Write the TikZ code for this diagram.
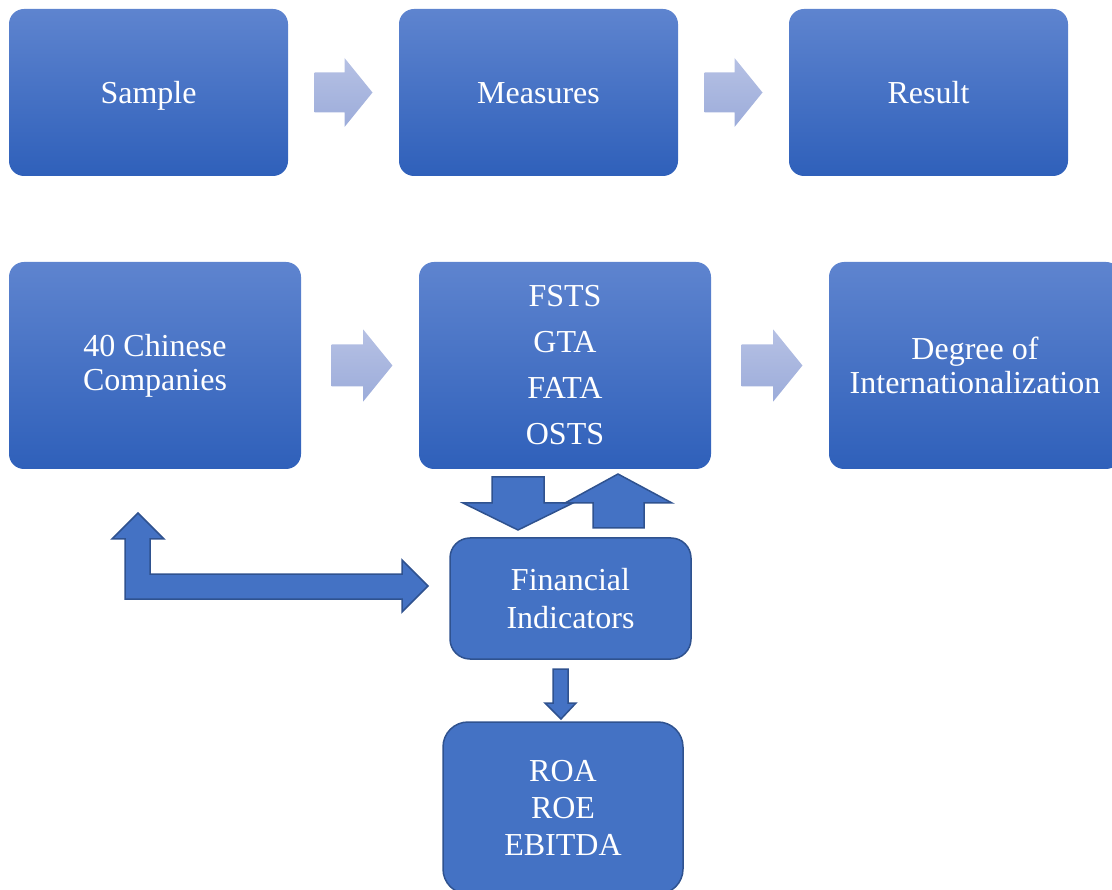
\documentclass[tikz,border=0pt]{standalone}
\usepackage{fontspec}
\setmainfont{Liberation Serif}
\usetikzlibrary{calc}

\definecolor{boxtop}{RGB}{94,132,207}
\definecolor{boxbot}{RGB}{47,96,186}
\definecolor{chevtop}{RGB}{182,193,228}
\definecolor{chevbot}{RGB}{156,172,218}
\definecolor{blockfill}{RGB}{68,114,196}
\definecolor{blockline}{RGB}{47,82,143}

\begin{document}
\begin{tikzpicture}[
        x=1pt, y=-1pt,
        every node/.style={font=\fontsize{32}{34}\selectfont, text=white, align=center, inner sep=0pt},
        stepbox/.style={rounded corners=15pt, top color=boxtop, bottom color=boxbot,
            minimum width=279pt, minimum height=167pt},
        toprow/.style={stepbox, text height=24pt, text depth=1pt},
        bigbox/.style={stepbox, minimum width=292pt, minimum height=207pt},
        flatbox/.style={rounded corners=20pt, fill=blockfill, draw=blockline, line width=1.5pt},
        blockarrow/.style={fill=blockfill, draw=blockline, line width=1.5pt, line join=miter},
        pics/chev/.style={code={%
            \path[top color=chevtop, bottom color=chevbot]
            (-29,-20) -- (1,-20) -- (1,-34.5) -- (29,0) -- (1,34.5) -- (1,20) -- (-29,20) -- cycle;
        }}
    ]
            \useasboundingbox (0,0) rectangle (1112,890);

            % top row
            \node[toprow] (sample)   at (148.5,92.5) {Sample};
            \node[toprow] (measures) at (538.5,92.5) {Measures};
            \node[toprow] (result)   at (928.5,92.5) {Result};

            \pic at ($(sample.east)!0.5!(measures.west)$) {chev};
            \pic at ($(measures.east)!0.5!(result.west)$) {chev};

            % second row
            \node[bigbox] (companies) at (155,365.5) {40 Chinese\\Companies};
            \node[bigbox] (ratios)    at (565,365.5) {FSTS\\[12pt]GTA\\[12pt]FATA\\[12pt]OSTS};
            \node[bigbox] (doi)       at (975,365.5) {Degree of\\Internationalization};

            \pic[scale=1.05] at ($(companies.east)!0.5!(ratios.west)+(2,0)$) {chev};
            \pic[scale=1.05] at ($(ratios.east)!0.5!(doi.west)+(2,0)$) {chev};

            % indicators
            \node[flatbox, minimum width=241pt, minimum height=121pt] (fin) at (570.5,598.5)
                {Financial\\[4pt]Indicators};
            \node[flatbox, rounded corners=25pt, minimum width=240pt, minimum height=172pt] (roa)
                at (563,808) {ROA\\[3pt]ROE\\[3pt]EBITDA};

            % block arrows
            \draw[blockarrow] (492,477) -- (544,477) -- (544,503) -- (573,503) -- (518,530)
                -- (463,503) -- (492,503) -- cycle;
            \draw[blockarrow] (593,528) -- (644,528) -- (644,503) -- (672,503) -- (618,474)
                -- (565,503) -- (593,503) -- cycle;
            \draw[blockarrow] (125,599) -- (125,539) -- (112,539) -- (138,513) -- (164,539)
                -- (150,539) -- (150,574) -- (402,574) -- (402,560) -- (428,586)
                -- (402,612) -- (402,599) -- cycle;
            \draw[blockarrow] (553,669) -- (568,669) -- (568,703) -- (576,703) -- (561,719)
                -- (545,703) -- (553,703) -- cycle;
        \end{tikzpicture}
\end{document}
